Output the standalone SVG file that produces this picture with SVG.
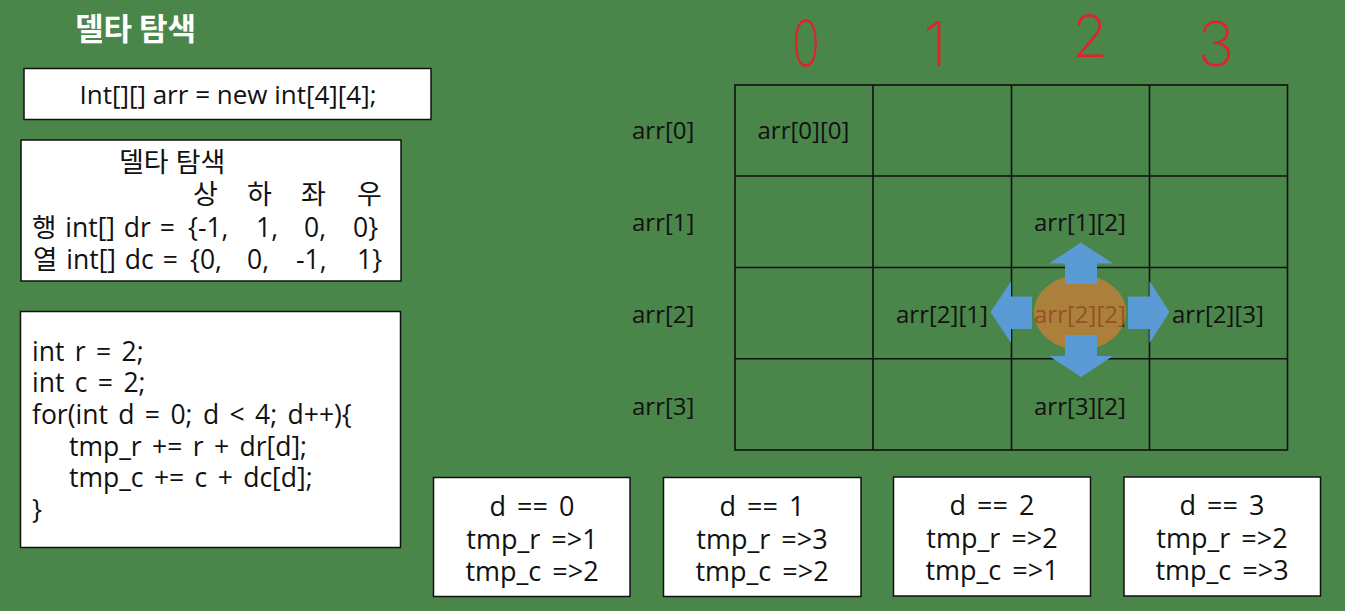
<svg xmlns="http://www.w3.org/2000/svg" width="1345" height="611" viewBox="0 0 1345 611">
  <defs>
    <style>
      .t { font-family: "Open Sans", "Noto Sans CJK KR", sans-serif; fill: #111; }
      .lbl { font-size: 24px; }
      .res { font-size: 27px; text-anchor: middle; word-spacing: 4px; }
      .box { fill: #fff; stroke: #111; stroke-width: 1.5; }
      .grid { fill: none; stroke: #111; stroke-width: 1.6; }
      .arrow { fill: #5b9bd5; }
      .ink { font-family: "Inter", "Liberation Sans", sans-serif; font-weight: 200; fill: #e5202a; }
    </style>
  </defs>

  <!-- background -->
  <rect x="0" y="0" width="1345" height="611" fill="#4a854a"/>

  <!-- title -->
  <g id="title">
    <text x="75" y="40" font-family="'Noto Sans CJK KR', sans-serif" font-weight="bold" font-size="31" fill="#fff">델타 탐색</text>
  </g>

  <!-- array declaration -->
  <g id="decl">
    <rect class="box" x="24" y="68.5" width="407" height="51"/>
    <text class="t" x="228" y="104" font-size="26" text-anchor="middle">Int[][] arr = new int[4][4];</text>
  </g>

  <!-- delta table -->
  <g id="delta">
    <rect class="box" x="21" y="140" width="380" height="141"/>
    <text class="t" x="119" y="172" font-size="27">델타 탐색</text>
    <text class="t" font-size="27" y="204"><tspan x="193">상</tspan><tspan x="247">하</tspan><tspan x="301">좌</tspan><tspan x="357">우</tspan></text>
    <text class="t" font-size="26.5" y="237" word-spacing="2"><tspan x="32">행 int[] dr =</tspan><tspan x="188">{-1,</tspan><tspan x="256">1,</tspan><tspan x="304">0,</tspan><tspan x="353">0}</tspan></text>
    <text class="t" font-size="26.5" y="269" word-spacing="2"><tspan x="33">열 int[] dc =</tspan><tspan x="190">{0,</tspan><tspan x="247">0,</tspan><tspan x="296">-1,</tspan><tspan x="357">1}</tspan></text>
  </g>

  <!-- loop code -->
  <g id="code">
    <rect class="box" x="20.5" y="311.5" width="380" height="236"/>
    <text class="t" font-size="26.5" word-spacing="3.5"><tspan x="32" y="361">int r = 2;</tspan><tspan x="32" y="392">int c = 2;</tspan><tspan x="32" y="424">for(int d = 0; d &lt; 4; d++){</tspan><tspan x="69" y="456">tmp_r += r + dr[d];</tspan><tspan x="69" y="487">tmp_c += c + dc[d];</tspan><tspan x="32" y="519">}</tspan></text>
  </g>

  <!-- column indices -->
  <g id="col-index">
    <text class="ink" transform="translate(806,66) scale(0.72,1)" font-size="64" text-anchor="middle">0</text>
    <text class="ink" x="935" y="66" font-size="62" text-anchor="middle">1</text>
    <text class="ink" x="1090" y="57" font-size="58" text-anchor="middle">2</text>
    <text class="ink" x="1216" y="66" font-size="62" text-anchor="middle">3</text>
  </g>

  <!-- row labels -->
  <g id="row-labels">
    <text class="t lbl" x="632" y="139">arr[0]</text>
    <text class="t lbl" x="632" y="231">arr[1]</text>
    <text class="t lbl" x="632" y="323">arr[2]</text>
    <text class="t lbl" x="632" y="415">arr[3]</text>
  </g>

  <!-- 4x4 grid -->
  <g id="grid">
    <rect class="grid" x="735" y="85" width="552.5" height="365"/>
    <path class="grid" d="M873 85V450M1011.5 85V450M1149.5 85V450M735 176H1287.5M735 267.5H1287.5M735 358.7H1287.5"/>
  </g>

  <!-- cell labels -->
  <g id="cells">
    <text class="t lbl" x="757.5" y="139">arr[0][0]</text>
    <text class="t lbl" x="1034" y="231">arr[1][2]</text>
    <text class="t lbl" x="896" y="323">arr[2][1]</text>
    <text class="t lbl" x="1034" y="323">arr[2][2]</text>
    <text class="t lbl" x="1172" y="323">arr[2][3]</text>
    <text class="t lbl" x="1034" y="415">arr[3][2]</text>
  </g>

  <!-- current cell highlight -->
  <g id="center">
    <ellipse cx="1080" cy="312.5" rx="46" ry="37.5" fill="#ed7d31" fill-opacity="0.6"/>
  </g>

  <!-- direction arrows -->
  <g id="arrows">
    <polygon class="arrow" points="1081,242.5 1113,263.5 1097,263.5 1097,284 1065,284 1065,263.5 1049,263.5"/>
    <polygon class="arrow" points="1081,377 1113,356 1097,356 1097,335 1065,335 1065,356 1049,356"/>
    <polygon class="arrow" points="990.5,312 1011,281.5 1011,296.5 1032,296.5 1032,329 1011,329 1011,343"/>
    <polygon class="arrow" points="1169.5,312 1149.5,281 1149.5,296.5 1128,296.5 1128,329 1149.5,329 1149.5,343"/>
  </g>

  <!-- per-direction results -->
  <g id="d0">
    <rect class="box" x="433.5" y="477.5" width="196.5" height="119"/>
    <text class="t res" x="532" y="516">d == 0</text>
    <text class="t res" x="532" y="549">tmp_r =&gt;1</text>
    <text class="t res" x="532" y="581">tmp_c =&gt;2</text>
  </g>
  <g id="d1">
    <rect class="box" x="663.5" y="477.5" width="197.5" height="119"/>
    <text class="t res" x="762" y="516">d == 1</text>
    <text class="t res" x="762" y="549">tmp_r =&gt;3</text>
    <text class="t res" x="762" y="581">tmp_c =&gt;2</text>
  </g>
  <g id="d2">
    <rect class="box" x="893.5" y="477" width="197" height="119"/>
    <text class="t res" x="992" y="515">d == 2</text>
    <text class="t res" x="992" y="548">tmp_r =&gt;2</text>
    <text class="t res" x="992" y="580">tmp_c =&gt;1</text>
  </g>
  <g id="d3">
    <rect class="box" x="1124" y="477" width="196.5" height="119"/>
    <text class="t res" x="1222" y="515">d == 3</text>
    <text class="t res" x="1222" y="548">tmp_r =&gt;2</text>
    <text class="t res" x="1222" y="580">tmp_c =&gt;3</text>
  </g>
</svg>
